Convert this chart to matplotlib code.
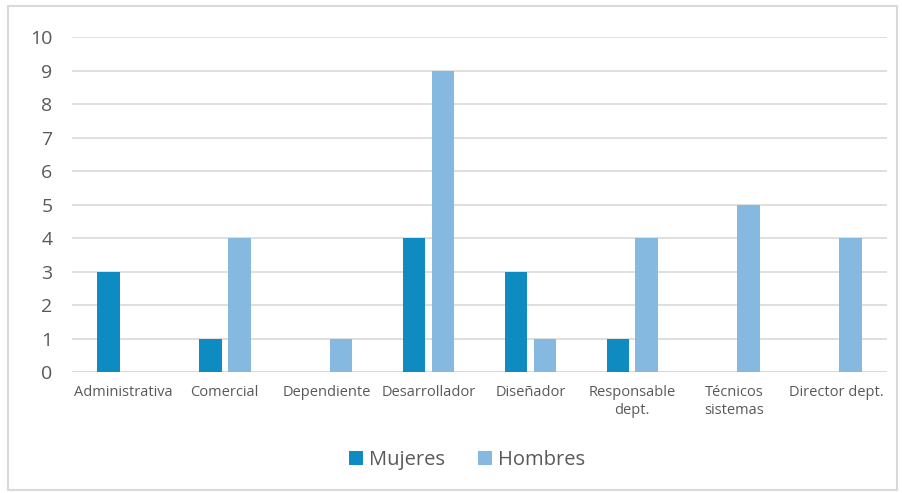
import matplotlib
matplotlib.use("Agg")
import matplotlib.pyplot as plt
import numpy as np
from matplotlib.patches import Rectangle

plt.rcParams["font.family"] = ["Open Sans", "DejaVu Sans"]

categorias = ["Administrativa", "Comercial", "Dependiente", "Desarrollador",
              "Diseñador", "Responsable\ndept.", "Técnicos\nsistemas", "Director dept."]
mujeres = [3, 1, 0, 4, 3, 1, 0, 0]
hombres = [0, 4, 1, 9, 1, 4, 5, 4]

C_MUJ = "#0E8BC0"
C_HOM = "#86B9E0"
C_TXT = "#595959"
C_GRID = "#D9D9D9"

fig = plt.figure(figsize=(9.03, 4.93), dpi=100)
ax = fig.add_axes([0.0797, 0.2454, 0.9026, 0.6795])

x = np.arange(len(categorias))
w = 0.222
off = 0.142
ax.bar(x - off, mujeres, w, color=C_MUJ, label="Mujeres", zorder=3)
ax.bar(x + off, hombres, w, color=C_HOM, label="Hombres", zorder=3)

ax.set_xlim(-0.5, len(categorias) - 0.5)
ax.set_ylim(0, 10)
ax.set_yticks(range(0, 11))
ax.grid(axis="y", color=C_GRID, lw=1.2, zorder=0)
ax.set_axisbelow(True)
for s in ax.spines.values():
    s.set_visible(False)

ax.set_xticks(x)
ax.set_xticklabels(categorias, fontsize=10.5, color=C_TXT, linespacing=1.3, va="top")
ax.tick_params(axis="x", length=0, pad=9)
ax.tick_params(axis="y", length=0, pad=14, labelsize=14, labelcolor=C_TXT)
ax.axhline(0, color=C_GRID, lw=1.5, zorder=2)

ax.legend(loc="center", bbox_to_anchor=(467 / 903, 1 - 460 / 493),
          bbox_transform=fig.transFigure, ncol=2, frameon=False,
          fontsize=14.5, labelcolor=C_TXT, handlelength=0.7, handleheight=0.7,
          handletextpad=0.3, columnspacing=1.6)

# borde del área del gráfico
fig.patches.append(Rectangle((8 / 903, 3 / 493), 889 / 903, 484 / 493,
                             transform=fig.transFigure, fill=False,
                             edgecolor=C_GRID, lw=1.5))

fig.savefig("out.png", dpi=100)
